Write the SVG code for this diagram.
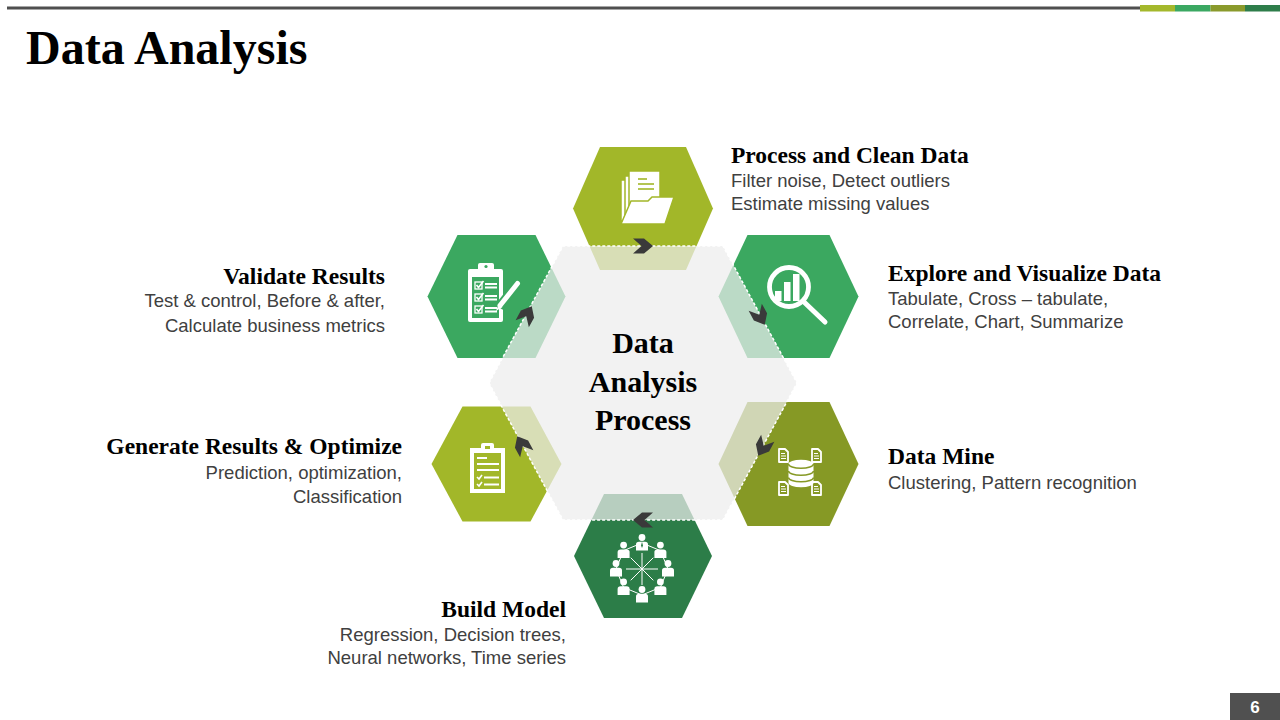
<svg xmlns="http://www.w3.org/2000/svg" width="1280" height="720" viewBox="0 0 1280 720">
<style>
.ttl{font-family:"Liberation Serif","Times New Roman",serif;font-weight:bold;font-size:23.5px;fill:#000}
.desc{font-family:"Liberation Sans",Arial,sans-serif;font-size:18.5px;fill:#404040}
.ic{fill:#fff}
.ln{stroke:#fff;fill:none}
.chev{fill:#3a3a3a}
</style>
<defs>
<path id="chev" d="M-10,-7.5 H1 L10,0 L1,7.5 H-10 L-1.5,0 Z"/>
<g id="person"><circle cx="0" cy="-5.5" r="3.4"/><path d="M-6,7.5 V1.5 Q-6,-1.2 -3,-1.2 H3 Q6,-1.2 6,1.5 V7.5 Z"/></g>
</defs>
<rect width="1280" height="720" fill="#fff"/>
<!-- header -->
<g id="header">
<rect x="7" y="6.5" width="1133" height="3" fill="#4f4f4f"/>
<rect x="1140" y="5" width="35" height="6.5" fill="#a4b82c"/>
<rect x="1175" y="5" width="35.5" height="6.5" fill="#3ba862"/>
<rect x="1210.5" y="5" width="34.5" height="6.5" fill="#8a9a2c"/>
<rect x="1245" y="5" width="35" height="6.5" fill="#2e7d4a"/>
<text x="26" y="64" font-family="Liberation Serif,'Times New Roman',serif" font-weight="bold" font-size="48" fill="#000">Data Analysis</text>
</g>

<!-- Process and Clean Data -->
<g id="node-process">
<polygon points="573,208.5 600,147 686,147 713,208.5 686,270 600,270" fill="#a2b729"/>
<rect x="621" y="180" width="31" height="41" class="ic" stroke="#a2b729" stroke-width="1.5"/>
<rect x="625" y="176" width="31" height="41" class="ic" stroke="#a2b729" stroke-width="1.5"/>
<rect x="629" y="171" width="31" height="41" class="ic" stroke="#a2b729" stroke-width="1.5"/>
<g stroke="#a2b729" stroke-width="1.6">
<line x1="638" y1="179" x2="647" y2="179"/>
<line x1="638" y1="184" x2="654" y2="184"/>
<line x1="638" y1="189" x2="654" y2="189"/>
</g>
<polygon points="621,224 665,224 674,197 652,197 648,201 631,201" class="ic" stroke="#a2b729" stroke-width="1.5"/>
<text class="ttl" x="731" y="163">Process and Clean Data</text>
<text class="desc" x="731" y="187">Filter noise, Detect outliers</text>
<text class="desc" x="731" y="210">Estimate missing values</text>
</g>

<!-- Explore and Visualize Data -->
<g id="node-explore">
<polygon points="718.5,296.5 747.5,235 829.5,235 858.5,296.5 829.5,358 747.5,358" fill="#3ba860"/>
<circle cx="789" cy="287" r="19.5" class="ln" stroke-width="4.8"/>
<line x1="803.5" y1="301.5" x2="825" y2="322" stroke="#fff" stroke-width="5" stroke-linecap="round"/>
<rect x="775" y="291" width="6.5" height="10" class="ic"/>
<rect x="784" y="282" width="6.5" height="19" class="ic"/>
<rect x="793" y="274" width="6.5" height="27" class="ic"/>
<text class="ttl" x="888" y="281">Explore and Visualize Data</text>
<text class="desc" x="888" y="305">Tabulate, Cross – tabulate,</text>
<text class="desc" x="888" y="328">Correlate, Chart, Summarize</text>
</g>

<!-- Data Mine -->
<g id="node-datamine">
<polygon points="718.5,464 747.5,402 829.5,402 858.5,464 829.5,526 747.5,526" fill="#869925"/>
<path d="M788.5,464 v19 a12.5,4.2 0 0 0 25,0 v-19 a12.5,4.2 0 0 0 -25,0 z" class="ic"/>
<g fill="none" stroke="#869925" stroke-width="1.6">
<path d="M788.5,464 a12.5,4.2 0 0 0 25,0"/>
<path d="M788.5,471 a12.5,4.2 0 0 0 25,0"/>
<path d="M788.5,477.5 a12.5,4.2 0 0 0 25,0"/>
</g>
<g fill="none" stroke="#fff" stroke-width="1.8" stroke-linejoin="round">
<path d="M779,449 h6 l3,3 v10 h-9 z"/>
<path d="M812,449 h6 l3,3 v10 h-9 z"/>
<path d="M779,482 h6 l3,3 v10 h-9 z"/>
<path d="M812,482 h6 l3,3 v10 h-9 z"/>
</g>
<g stroke="#fff" stroke-width="1.2">
<path d="M781,453.5 h4 M781,456 h5 M781,458.5 h5"/>
<path d="M814,453.5 h4 M814,456 h5 M814,458.5 h5"/>
<path d="M781,486.5 h4 M781,489 h5 M781,491.5 h5"/>
<path d="M814,486.5 h4 M814,489 h5 M814,491.5 h5"/>
</g>
<text class="ttl" x="888" y="464">Data Mine</text>
<text class="desc" x="888" y="489">Clustering, Pattern recognition</text>
</g>

<!-- Build Model -->
<g id="node-build">
<polygon points="574,556 604,494 682,494 712,556 682,618 604,618" fill="#2c7d48"/>
<g stroke="#fff" stroke-width="1" fill="none">
<polygon points="642,543 660.4,550.6 668,569 660.4,587.4 642,595 623.6,587.4 616,569 623.6,550.6"/>
<path d="M642,553 V585 M626,569 H658 M630.7,557.7 L653.3,580.3 M653.3,557.7 L630.7,580.3"/>
</g>
<g class="ic">
<use href="#person" x="642" y="543"/>
<path d="M642,542 L641,545.5 L642,548 L643,545.5 Z" fill="#2c7d48"/>
<use href="#person" x="660.4" y="550.6"/>
<use href="#person" x="668" y="569"/>
<use href="#person" x="660.4" y="587.4"/>
<use href="#person" x="642" y="595"/>
<use href="#person" x="623.6" y="587.4"/>
<use href="#person" x="616" y="569"/>
<use href="#person" x="623.6" y="550.6"/>
</g>
<text class="ttl" x="566" y="617" text-anchor="end">Build Model</text>
<text class="desc" x="566" y="641" text-anchor="end">Regression, Decision trees,</text>
<text class="desc" x="566" y="664" text-anchor="end">Neural networks, Time series</text>
</g>

<!-- Generate Results & Optimize -->
<g id="node-generate">
<polygon points="431.5,464 462.5,406.5 530.5,406.5 561.5,464 530.5,521.5 462.5,521.5" fill="#a2b729"/>
<rect x="470" y="448" width="35" height="45" class="ic"/>
<rect x="474" y="453" width="27" height="36" fill="#a2b729"/>
<rect x="481" y="443" width="13" height="9" rx="2" class="ic"/>
<rect x="485" y="446" width="5" height="3" fill="#a2b729"/>
<g stroke="#fff" stroke-width="2" fill="none">
<path d="M477,458 H487 M477,464 H499 M477,470 H499 M484,477.5 H499 M484,484.5 H499"/>
<path d="M477,477 l2,2 l3,-4 M477,484 l2,2 l3,-4" stroke-width="1.6"/>
</g>
<text class="ttl" x="402" y="454" text-anchor="end">Generate Results &amp; Optimize</text>
<text class="desc" x="402" y="479" text-anchor="end">Prediction, optimization,</text>
<text class="desc" x="402" y="503" text-anchor="end">Classification</text>
</g>

<!-- Validate Results -->
<g id="node-validate">
<polygon points="427.5,296.5 457.5,235 535.5,235 565.5,296.5 535.5,358 457.5,358" fill="#3ba860"/>
<rect x="468" y="269" width="35" height="53" rx="2" class="ic"/>
<rect x="472" y="277" width="27" height="41" fill="#3ba860"/>
<rect x="478" y="263" width="16" height="10" rx="2" class="ic"/>
<circle cx="486" cy="266.5" r="1.6" fill="#3ba860"/>
<g stroke="#fff" fill="none" stroke-width="1.3">
<rect x="475" y="282" width="7" height="7"/>
<rect x="475" y="294" width="7" height="7"/>
<rect x="475" y="306" width="7" height="7"/>
<path d="M476.5,285 l2,2.5 l5,-6.5 M476.5,297 l2,2.5 l5,-6.5 M476.5,309 l2,2.5 l5,-6.5" stroke-width="1.6"/>
<path d="M485,284 H497 M485,287.5 H497 M485,296 H497 M485,299.5 H497 M485,308 H497 M485,311.5 H497" stroke-width="1.8"/>
</g>
<line x1="518" y1="283" x2="499" y2="307" stroke="#3ba860" stroke-width="9"/>
<line x1="517.5" y1="283.5" x2="500" y2="305.5" stroke="#fff" stroke-width="5" stroke-linecap="round"/>
<path d="M499,303.5 L496,311 L502.5,307 Z" class="ic"/>
<text class="ttl" x="385" y="284" text-anchor="end">Validate Results</text>
<text class="desc" x="385" y="307" text-anchor="end">Test &amp; control, Before &amp; after,</text>
<text class="desc" x="385" y="332" text-anchor="end">Calculate business metrics</text>
</g>

<!-- Center -->
<g id="node-center">
<polygon points="489,383 563,246 723,246 797,383 723,520 563,520" fill="#ededed" fill-opacity="0.72" stroke="#fff" stroke-width="1.5" stroke-dasharray="3 2"/>
<text x="643" y="353" text-anchor="middle" font-family="Liberation Serif,'Times New Roman',serif" font-weight="bold" font-size="30" fill="#000">Data</text>
<text x="643" y="391.5" text-anchor="middle" font-family="Liberation Serif,'Times New Roman',serif" font-weight="bold" font-size="30" fill="#000">Analysis</text>
<text x="643" y="430" text-anchor="middle" font-family="Liberation Serif,'Times New Roman',serif" font-weight="bold" font-size="30" fill="#000">Process</text>
</g>

<!-- connectors -->
<g id="connectors" class="chev">
<use href="#chev" transform="translate(643,246)"/>
<use href="#chev" transform="translate(760,316) rotate(61.6)"/>
<use href="#chev" transform="translate(763,447) rotate(118.4)"/>
<use href="#chev" transform="translate(643,520) rotate(180)"/>
<use href="#chev" transform="translate(522,445) rotate(-118.4)"/>
<use href="#chev" transform="translate(527,315) rotate(-61.6)"/>
</g>

<!-- page number -->
<g id="page-number">
<rect x="1230" y="693" width="50" height="27" fill="#505050"/>
<text x="1255" y="713" text-anchor="middle" font-family="Liberation Sans,Arial,sans-serif" font-weight="bold" font-size="17" fill="#fff">6</text>
</g>
</svg>
